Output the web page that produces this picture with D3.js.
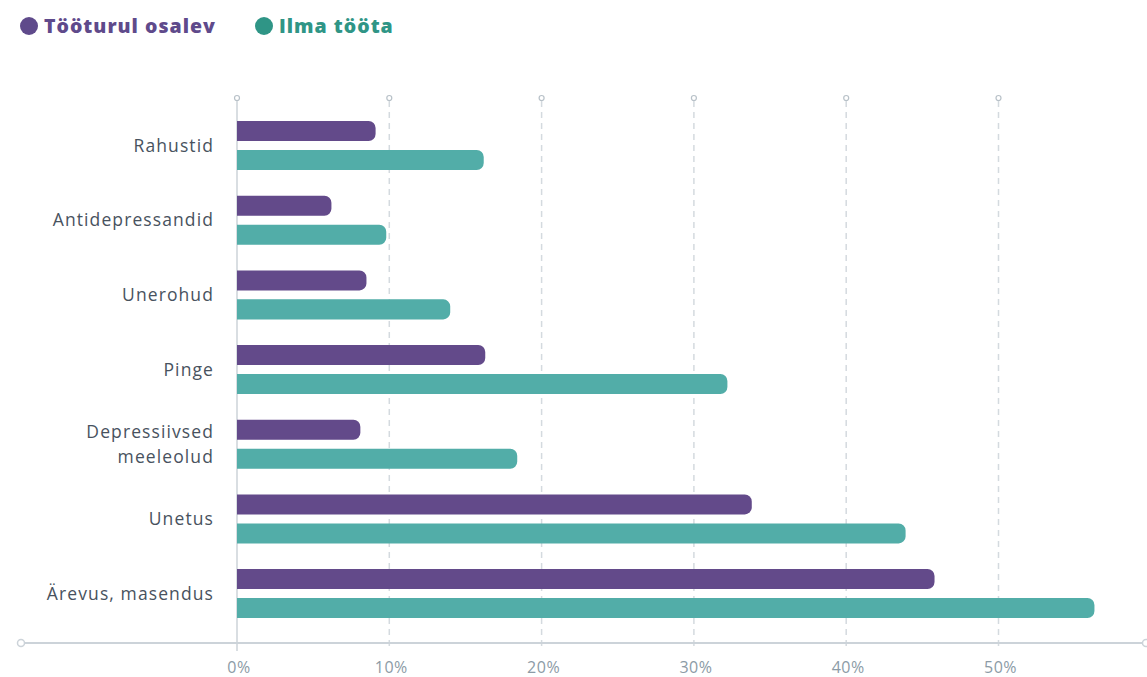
<!DOCTYPE html>
<html>
<head>
<meta charset="utf-8">
<script src="https://cdn.jsdelivr.net/npm/d3@7"></script>
<style>
  body { margin: 0; background: #fff; }
  svg { font-family: "Open Sans", sans-serif; }
</style>
</head>
<body>
<div id="chart"></div>
<script>
// categories and values (percent)
var categories = ["Rahustid", "Antidepressandid", "Unerohud", "Pinge", "Depressiivsed meeleolud", "Unetus", "Ärevus, masendus"];
var seriesNames = ["Tööturul osalev", "Ilma tööta"];
var working = [9.1, 6.2, 8.5, 16.3, 8.1, 33.8, 45.8];
var jobless = [16.2, 9.8, 14.0, 32.2, 18.4, 43.9, 56.3];
var ticks = [0, 10, 20, 30, 40, 50];

var barColors = ["#634a8a", "#52ada8"];
var legendColors = ["#5f4a8b", "#2f9586"];

var width = 1147, height = 677;

var svg = d3.select("#chart")
    .append("svg")
    .attr("width", width)
    .attr("height", height);

// scales
var x = d3.scaleLinear()
    .domain([0, 10])
    .range([237, 389.3]);

var y = d3.scaleBand()
    .domain(categories)
    .range([108.2, 630.9]);

var sub = d3.scaleBand()
    .domain([0, 1])
    .range([y.bandwidth() / 2 - 24.5, y.bandwidth() / 2 + 24.5])
    .paddingInner(0.31);

var axisY = 643, topY = 98;

// grid lines
svg.append("g")
    .selectAll("line")
    .data(ticks)
    .enter().append("line")
    .attr("x1", function(d) { return x(d); })
    .attr("x2", function(d) { return x(d); })
    .attr("y1", topY + 3)
    .attr("y2", axisY + 8)
    .attr("stroke", function(d) { return d === 0 ? "#ccd3d9" : "#d4dadf"; })
    .attr("stroke-width", 1.5)
    .attr("stroke-dasharray", function(d) { return d === 0 ? null : "6,5"; });

// little circles on top of grid lines
svg.append("g")
    .selectAll("circle")
    .data(ticks)
    .enter().append("circle")
    .attr("cx", function(d) { return x(d); })
    .attr("cy", topY)
    .attr("r", 2.5)
    .attr("fill", "#fff")
    .attr("stroke", "#b8c1c8")
    .attr("stroke-width", 1.2);

// bottom axis line
svg.append("line")
    .attr("x1", 24)
    .attr("x2", 1142)
    .attr("y1", axisY)
    .attr("y2", axisY)
    .attr("stroke", "#ccd3d9")
    .attr("stroke-width", 2);

[21, 1146].forEach(function(cx) {
    svg.append("circle")
        .attr("cx", cx)
        .attr("cy", axisY)
        .attr("r", 3.5)
        .attr("fill", "#fff")
        .attr("stroke", "#ccd3d9")
        .attr("stroke-width", 1.5);
});

// tick labels
svg.append("g")
    .selectAll("text")
    .data(ticks)
    .enter().append("text")
    .attr("x", function(d) { return x(d) + 2; })
    .attr("y", 673)
    .attr("text-anchor", "middle")
    .attr("fill", "#8c9ba6")
    .attr("font-size", 16)
    .attr("letter-spacing", 0.5)
    .text(function(d) { return d + "%"; });

// bar with rounded right corners
function barPath(x0, x1, y0, h, r) {
    r = Math.min(r, (x1 - x0), h / 2);
    return "M" + x0 + "," + y0 +
        "H" + (x1 - r) +
        "A" + r + "," + r + " 0 0 1 " + x1 + "," + (y0 + r) +
        "V" + (y0 + h - r) +
        "A" + r + "," + r + " 0 0 1 " + (x1 - r) + "," + (y0 + h) +
        "H" + x0 + "Z";
}

var rows = categories.map(function(c, i) { return {cat: c, vals: [working[i], jobless[i]]}; });

var groups = svg.append("g")
    .selectAll("g")
    .data(rows)
    .enter().append("g")
    .attr("transform", function(d) { return "translate(0," + y(d.cat) + ")"; });

groups.selectAll("path")
    .data(function(d) { return d.vals.map(function(v, k) { return {v: v, k: k}; }); })
    .enter().append("path")
    .attr("fill", function(d) { return barColors[d.k]; })
    .attr("d", function(d) { return barPath(x(0), x(d.v), sub(d.k), sub.bandwidth(), 7); });

// category labels
groups.append("text")
    .attr("x", 214)
    .attr("text-anchor", "end")
    .attr("fill", "#48525e")
    .attr("font-size", 17.5)
    .attr("letter-spacing", 1.1)
    .each(function(d) {
        var t = d3.select(this);
        var words = d.cat === "Depressiivsed meeleolud" ? ["Depressiivsed", "meeleolud"] : [d.cat];
        var mid = y.bandwidth() / 2 + 6;
        words.forEach(function(w, i) {
            t.append("tspan")
                .attr("x", 214)
                .attr("y", mid + (i - (words.length - 1) / 2) * 25)
                .text(w);
        });
    });

// legend
var legendX = [29, 264];
seriesNames.forEach(function(name, i) {
    svg.append("circle")
        .attr("cx", legendX[i])
        .attr("cy", 26)
        .attr("r", 9)
        .attr("fill", legendColors[i]);
    svg.append("text")
        .attr("x", legendX[i] + 15)
        .attr("y", 33)
        .attr("fill", legendColors[i])
        .attr("font-size", 19.5)
        .attr("font-weight", 800)
        .attr("letter-spacing", 1)
        .text(name);
});
</script>
</body>
</html>
